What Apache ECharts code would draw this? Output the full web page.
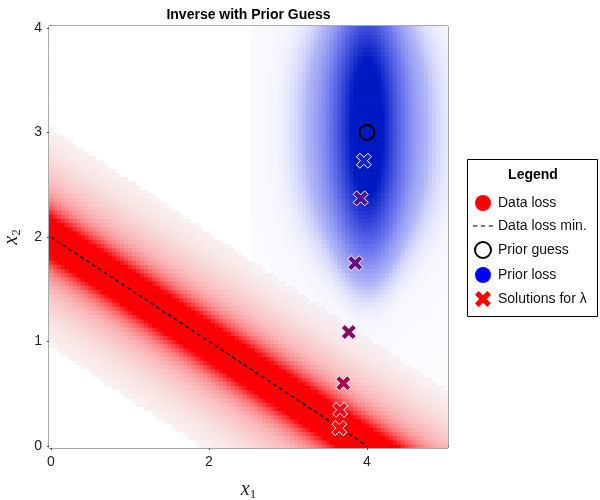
<!DOCTYPE html>
<html>
<head>
<meta charset="utf-8">
<script src="https://cdn.jsdelivr.net/npm/echarts@6/dist/echarts.min.js"></script>
<style>
  html, body { margin: 0; padding: 0; background: #fff; }
  #chart { width: 600px; height: 500px; }
</style>
</head>
<body>
<div id="chart"></div>
<script>
// data loss minimum: the dashed line through these two points
var LINE_X = [0, 4];
var LINE_Y = [2, 0];
var PRIOR_GUESS = [4, 3];

// solutions for increasing lambda
var SOLUTION_X = [3.65, 3.66, 3.70, 3.77, 3.85, 3.92, 3.96];
var SOLUTION_Y = [0.17, 0.345, 0.60, 1.09, 1.75, 2.37, 2.73];
var SOLUTION_COLORS = ['#ee1010', '#e81020', '#a8084a', '#840a62', '#660c7e', '#4a109a', '#1224c4'];

var X_TICKS = [0, 2, 4];
var Y_TICKS = [0, 1, 2, 3, 4];

// background loss field, sampled on a grid
var STEP_X = 0.05, STEP_Y = 0.04;
var NX = 100, NY = 100;
var RED_CUT = 1.05;
var BLUE_CENTER = [4, 3.05];
var BLUE_SY = 1.26, BLUE_CUT = 1.45;

var FONT = 'Liberation Sans, Arial, sans-serif';
var SERIF = 'Liberation Serif, DejaVu Serif, serif';
var X_PATH = 'path://M0,1.4 L1.4,0 L3,1.6 L4.6,0 L6,1.4 L4.4,3 L6,4.6 L4.6,6 L3,4.4 L1.4,6 L0,4.6 L1.6,3 Z';
var DASH_PATH = 'path://M0,0h4v1h-4z M7,0h4v1h-4z M14,0h4v1h-4z';

function clamp(t) { return Math.max(0, Math.min(1, t)); }
function mix(a, b, t) {
  return [a[0] + (b[0] - a[0]) * t, a[1] + (b[1] - a[1]) * t, a[2] + (b[2] - a[2]) * t];
}

var RED = [250, 0, 4], RED_FLOOR = [249, 248, 248];
var BLUE_LIGHT = [245, 245, 254], BLUE_MID = [110, 120, 238], BLUE_DARK = [0, 25, 195];

var slope = (LINE_Y[1] - LINE_Y[0]) / (LINE_X[1] - LINE_X[0]);
var cells = [], cellColors = [];
for (var i = 0; i <= NX; i++) {
  for (var j = 0; j <= NY; j++) {
    var x = i * STEP_X, y = j * STEP_Y;
    var c = [255, 255, 255];
    var tr = 0;
    var dr = y - (LINE_Y[0] + slope * (x - LINE_X[0]));
    if (Math.abs(dr) < RED_CUT) {
      tr = clamp(1.1 * Math.exp(-dr * dr / (2 * 0.17 * 0.17)) + 0.45 * Math.exp(-dr * dr / (2 * 0.45 * 0.45)));
      c = mix(RED_FLOOR, RED, tr);
    }
    var dx = x - BLUE_CENTER[0], dy = Math.abs(y - BLUE_CENTER[1]);
    if (Math.abs(dx) < BLUE_CUT) {
      var fx = 0.65 * Math.exp(-dx * dx / (0.35 * 0.35)) + 0.55 * Math.exp(-dx * dx / (0.85 * 0.85));
      var tb = clamp(fx * Math.exp(-Math.pow(dy / BLUE_SY, 2.5)));
      var bc = tb < 0.5 ? mix(BLUE_LIGHT, BLUE_MID, tb * 2) : mix(BLUE_MID, BLUE_DARK, (tb - 0.5) * 2);
      var a = Math.min(1, tb * 4);
      if (tr < 0.05) a = Math.max(a, 0.3);
      c = mix(c, bc, a);
    }
    cells.push([x, y]);
    cellColors.push('rgb(' + Math.round(c[0]) + ',' + Math.round(c[1]) + ',' + Math.round(c[2]) + ')');
  }
}

var chart = echarts.init(document.getElementById('chart'), null, { renderer: 'canvas' });

var axisName = {
  rich: {
    i: { fontFamily: SERIF, fontStyle: 'italic', fontSize: 20, color: '#222' },
    s: { fontFamily: SERIF, fontSize: 13, color: '#222', padding: [10, 0, 0, 0] }
  }
};

var option = {
  animation: false,
  backgroundColor: '#fff',
  grid: {
    left: 49, top: 26, width: 399, height: 422,
    outerBoundsMode: 'none', containLabel: false,
    show: true, borderColor: '#555', borderWidth: 1, backgroundColor: 'transparent'
  },
  xAxis: {
    type: 'value', min: -0.025, max: 5.025,
    name: '{i|x}{s|1}', nameLocation: 'middle', nameGap: 30, nameTextStyle: axisName,
    axisLine: { show: true, lineStyle: { color: '#444', width: 1.5 } },
    axisTick: { show: true, length: 4, customValues: X_TICKS, lineStyle: { color: '#444' } },
    axisLabel: { customValues: X_TICKS, margin: 7, fontSize: 14, fontFamily: FONT, color: '#222' },
    splitLine: { show: false }
  },
  yAxis: {
    type: 'value', min: -0.02, max: 4.02,
    name: '{i|x}{s|2}', nameLocation: 'middle', nameGap: 24, nameRotate: 90, nameTextStyle: axisName,
    axisLine: { show: true, lineStyle: { color: '#444', width: 1.5 } },
    axisTick: { show: true, length: 4, customValues: Y_TICKS, lineStyle: { color: '#444' } },
    axisLabel: { customValues: Y_TICKS, margin: 7, fontSize: 14, fontFamily: FONT, color: '#222' },
    splitLine: { show: false }
  },
  legend: {
    orient: 'vertical', left: 468, top: 190,
    itemWidth: 20, itemHeight: 16, itemGap: 8,
    textStyle: { fontSize: 14, fontFamily: FONT, color: '#111' },
    data: [
      { name: 'Data loss', icon: 'circle' },
      { name: 'Data loss min.', icon: DASH_PATH, itemStyle: { color: '#000' } },
      { name: 'Prior guess', icon: 'circle' },
      { name: 'Prior loss', icon: 'circle' },
      { name: 'Solutions for λ', icon: X_PATH, itemStyle: { color: '#ff0000', borderWidth: 0 } }
    ]
  },
  graphic: [
    { type: 'text', x: 248.5, y: 15, style: { text: 'Inverse with Prior Guess', align: 'center', verticalAlign: 'middle', fontSize: 14, fontWeight: 'bold', fontFamily: FONT, fill: '#000' } },
    { type: 'rect', shape: { x: 467.5, y: 159.5, width: 130, height: 157 }, style: { fill: '#fff', stroke: '#000', lineWidth: 1 }, z: -1 },
    { type: 'text', x: 533, y: 175, style: { text: 'Legend', align: 'center', verticalAlign: 'middle', fontSize: 14, fontWeight: 'bold', fontFamily: FONT, fill: '#000' } }
  ],
  series: [
    {
      type: 'custom',
      name: 'field',
      data: cells,
      encode: { x: 0, y: 1 },
      clip: true,
      silent: true,
      progressive: 0,
      z: 1,
      renderItem: function (params, api) {
        var x = api.value(0), y = api.value(1);
        var p0 = api.coord([x - STEP_X / 2, y + STEP_Y / 2]);
        var p1 = api.coord([x + STEP_X / 2, y - STEP_Y / 2]);
        return {
          type: 'rect',
          shape: { x: p0[0], y: p0[1], width: p1[0] - p0[0] + 0.7, height: p1[1] - p0[1] + 0.7 },
          style: { fill: cellColors[params.dataIndex] }
        };
      }
    },
    { type: 'scatter', name: 'Data loss', data: [], itemStyle: { color: '#ff0000', opacity: 1 } },
    {
      type: 'line', name: 'Data loss min.',
      data: LINE_X.map(function (x, k) { return [x, LINE_Y[k]]; }),
      symbol: 'none', z: 3,
      lineStyle: { color: '#000', width: 1.5, type: [4, 3] },
      itemStyle: { color: '#000' }
    },
    {
      type: 'scatter', name: 'Prior guess',
      data: [PRIOR_GUESS], symbol: 'circle', symbolSize: 15, z: 4,
      itemStyle: { color: 'rgba(0,0,0,0)', borderColor: '#000', borderWidth: 2, opacity: 1 }
    },
    { type: 'scatter', name: 'Prior loss', data: [], itemStyle: { color: '#0000ff', opacity: 1 } },
    {
      type: 'scatter', name: 'Solutions for λ',
      symbol: X_PATH, symbolSize: 15, z: 5,
      itemStyle: { color: '#ff0000', borderColor: '#fff', borderWidth: 1, opacity: 1 },
      data: SOLUTION_X.map(function (x, k) {
        return { value: [x, SOLUTION_Y[k]], itemStyle: { color: SOLUTION_COLORS[k] } };
      })
    }
  ]
};

chart.setOption(option);
</script>
</body>
</html>
